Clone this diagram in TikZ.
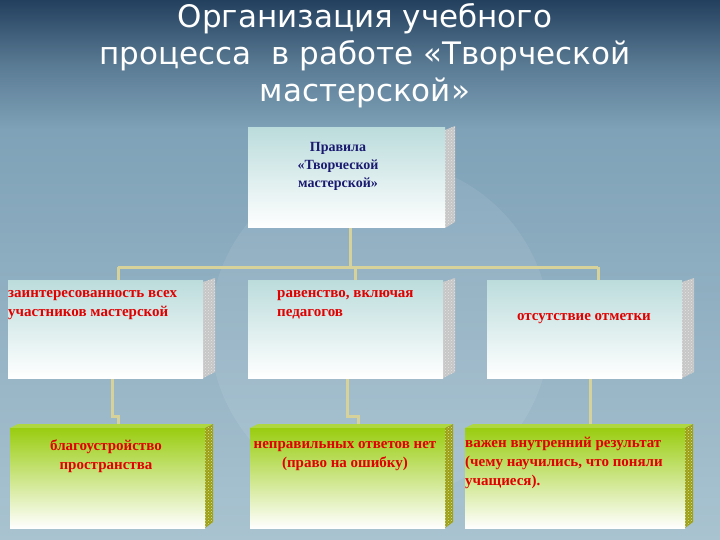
\documentclass[tikz,border=0pt]{standalone}
\usepackage{fontspec}
\setmainfont{Liberation Serif}
\newfontfamily\titlefont{DejaVu Sans}
\usetikzlibrary{patterns}
\definecolor{bgtop}{HTML}{23405E}
\definecolor{bgmid}{HTML}{7FA2B8}
\definecolor{bgbot}{HTML}{A9C3D0}
\definecolor{conn}{HTML}{D6D29A}
\definecolor{itemred}{HTML}{E00000}
\definecolor{navy}{HTML}{1A1A70}
\definecolor{gtop}{HTML}{9ACD10}
\definecolor{wtop}{HTML}{BCDCDC}
\tikzset{
  conline/.style={draw=conn, line width=3pt},
  wface/.style={draw=none, top color=wtop, bottom color=white},
  gface/.style={draw=none, top color=gtop, bottom color=white},
  wside/.style={fill=gray!45},
  wdots/.style={pattern=crosshatch dots, pattern color=gray!20},
  gside/.style={fill=olive!60!gtop},
  gdots/.style={pattern=crosshatch dots, pattern color=gtop!40!white},
  txt/.style={font=\bfseries\fontsize{15}{19}\selectfont, text=itemred, align=center},
}
\begin{document}
\begin{tikzpicture}[x=1pt,y=-1pt]
\useasboundingbox (0,0) rectangle (720,540);
\shade[top color=bgtop, bottom color=bgmid, middle color=bgmid!60!bgtop] (0,0) rectangle (720,130);
\shade[top color=bgmid, bottom color=bgbot] (0,130) rectangle (720,540);
\fill[white, opacity=0.08] (380,330) circle (170);
% title
\node[font=\titlefont\fontsize{31}{37}\selectfont, text=white, align=center] (title) at (365,56)
  {Организация учебного\\процесса\ \ в работе «Творческой\\мастерской»};
% connectors
\coordinate (h1) at (118,267); \coordinate (h2) at (355,267); \coordinate (h3) at (598,267);
\coordinate (top) at (350,267);
\draw[conline] (350,228) -- (top);
\draw[conline] (h1) -- (h3);
\draw[conline] (h1) -- (118,280);
\draw[conline] (h2) -- (355,280);
\draw[conline] (h3) -- (598,280);
\draw[conline] (112,378) -- (112,416) -- (118,416) -- (118,428);
\draw[conline] (347,378) -- (347,416) -- (358,416) -- (358,428);
\draw[conline] (590,378) -- (590,428);
% top box
\fill[wside] (445,130) -- (455,126) -- (455,222) -- (445,228) -- cycle;
\fill[wdots] (445,130) -- (455,126) -- (455,222) -- (445,228) -- cycle;
\fill[wface] (248,128) rectangle (445,228);
\node[font=\bfseries\fontsize{14}{18}\selectfont, text=navy, align=center] (rules) at (338,166) {Правила\\«Творческой\\мастерской»};
% row 2
\foreach \x/\n in {8/a,248/b,487/c}{
  \fill[wside] (\x+195,282) -- (\x+207,278) -- (\x+207,372) -- (\x+195,378) -- cycle;
  \fill[wdots] (\x+195,282) -- (\x+207,278) -- (\x+207,372) -- (\x+195,378) -- cycle;
  \fill[wface] (\x,280) rectangle (\x+195,378);
}
\node[txt, align=left, anchor=north west, inner sep=0pt] (a) at (8,290) {заинтересованность всех\\участников мастерской};
\node[txt, align=left, anchor=north west, inner sep=0pt] (b) at (277,290) {равенство, включая\\педагогов};
\node[txt] (c) at (584,319) {отсутствие отметки};
% row 3
\foreach \x/\w in {10/195,250/195,465/220}{
  \fill[gtop!80!white] (\x,428) -- (\x+8,424) -- (\x+\w+8,424) -- (\x+\w,428) -- cycle;
  \fill[gside] (\x+\w,428) -- (\x+\w+8,424) -- (\x+\w+8,522) -- (\x+\w,528) -- cycle;
  \fill[gdots] (\x+\w,428) -- (\x+\w+8,424) -- (\x+\w+8,522) -- (\x+\w,528) -- cycle;
  \fill[gface] (\x,428) rectangle (\x+\w,528);
}
\node[txt] (d) at (106,456) {благоустройство\\пространства};
\node[txt] (e) at (345,456) {неправильных ответов нет\\(право на ошибку)};
\node[txt, align=left, anchor=north west, inner sep=0pt] (f) at (465,437) {важен внутренний результат\\(чему научились, что поняли\\учащиеся).};
\end{tikzpicture}
\end{document}
